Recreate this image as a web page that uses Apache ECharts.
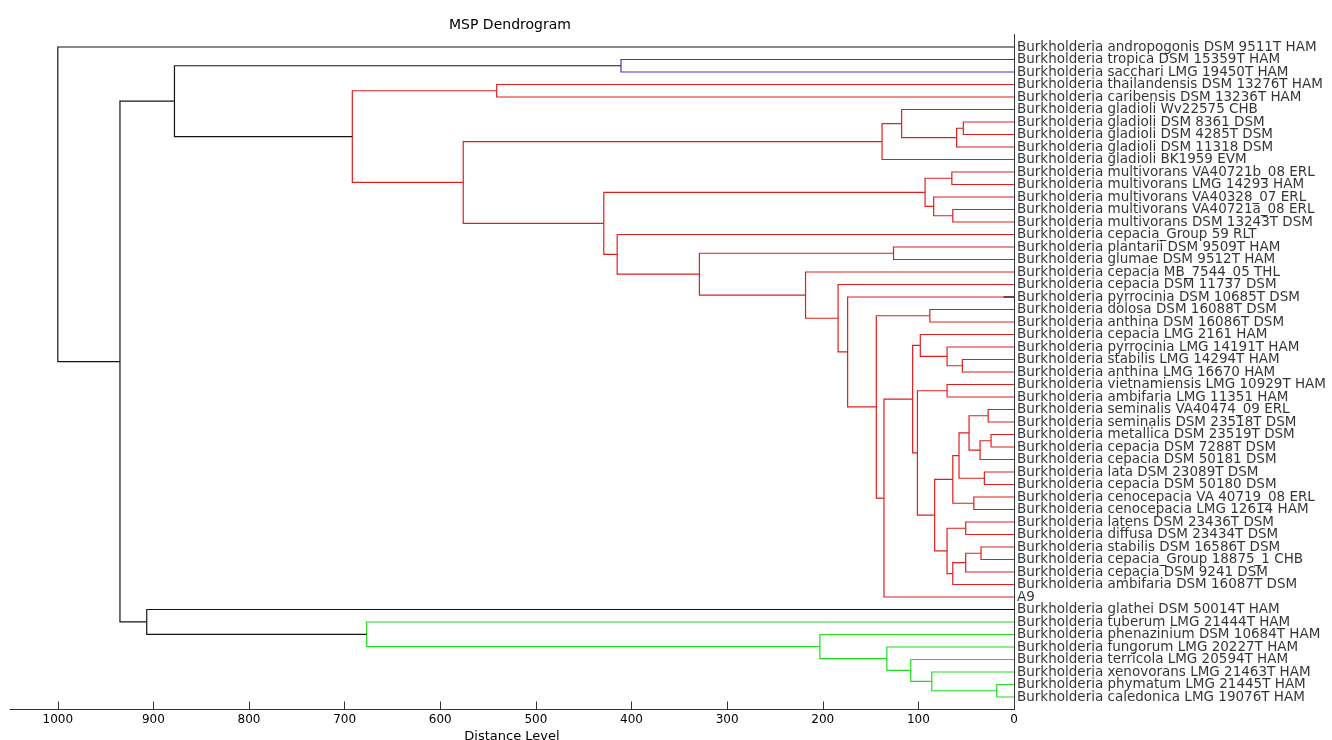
<!DOCTYPE html>
<html><head><meta charset="utf-8">
<script src="https://cdn.jsdelivr.net/npm/echarts@6/dist/echarts.min.js"></script>
<style>html,body{margin:0;padding:0;background:#fff}#c{width:1332px;height:740px}</style>
</head><body><div id="c"></div>
<script>
// Leaf labels, top to bottom
const leafNames = [
  'Burkholderia andropogonis DSM 9511T HAM',
  'Burkholderia tropica DSM 15359T HAM',
  'Burkholderia sacchari LMG 19450T HAM',
  'Burkholderia thailandensis DSM 13276T HAM',
  'Burkholderia caribensis DSM 13236T HAM',
  'Burkholderia gladioli Wv22575 CHB',
  'Burkholderia gladioli DSM 8361 DSM',
  'Burkholderia gladioli DSM 4285T DSM',
  'Burkholderia gladioli DSM 11318 DSM',
  'Burkholderia gladioli BK1959 EVM',
  'Burkholderia multivorans VA40721b_08 ERL',
  'Burkholderia multivorans LMG 14293 HAM',
  'Burkholderia multivorans VA40328_07 ERL',
  'Burkholderia multivorans VA40721a_08 ERL',
  'Burkholderia multivorans DSM 13243T DSM',
  'Burkholderia cepacia_Group 59 RLT',
  'Burkholderia plantarii DSM 9509T HAM',
  'Burkholderia glumae DSM 9512T HAM',
  'Burkholderia cepacia MB_7544_05 THL',
  'Burkholderia cepacia DSM 11737 DSM',
  'Burkholderia pyrrocinia DSM 10685T DSM',
  'Burkholderia dolosa DSM 16088T DSM',
  'Burkholderia anthina DSM 16086T DSM',
  'Burkholderia cepacia LMG 2161 HAM',
  'Burkholderia pyrrocinia LMG 14191T HAM',
  'Burkholderia stabilis LMG 14294T HAM',
  'Burkholderia anthina LMG 16670 HAM',
  'Burkholderia vietnamiensis LMG 10929T HAM',
  'Burkholderia ambifaria LMG 11351 HAM',
  'Burkholderia seminalis VA40474_09 ERL',
  'Burkholderia seminalis DSM 23518T DSM',
  'Burkholderia metallica DSM 23519T DSM',
  'Burkholderia cepacia DSM 7288T DSM',
  'Burkholderia cepacia DSM 50181 DSM',
  'Burkholderia lata DSM 23089T DSM',
  'Burkholderia cepacia DSM 50180 DSM',
  'Burkholderia cenocepacia VA 40719_08 ERL',
  'Burkholderia cenocepacia LMG 12614 HAM',
  'Burkholderia latens DSM 23436T DSM',
  'Burkholderia diffusa DSM 23434T DSM',
  'Burkholderia stabilis DSM 16586T DSM',
  'Burkholderia cepacia_Group 18875_1 CHB',
  'Burkholderia cepacia DSM 9241 DSM',
  'Burkholderia ambifaria DSM 16087T DSM',
  'A9',
  'Burkholderia glathei DSM 50014T HAM',
  'Burkholderia tuberum LMG 21444T HAM',
  'Burkholderia phenazinium DSM 10684T HAM',
  'Burkholderia fungorum LMG 20227T HAM',
  'Burkholderia terricola LMG 20594T HAM',
  'Burkholderia xenovorans LMG 21463T HAM',
  'Burkholderia phymatum LMG 21445T HAM',
  'Burkholderia caledonica LMG 19076T HAM'
];

// Linkage: [childA, childB]; ids >= leafNames.length refer to earlier rows
const linkPairs = [
  [51, 52], [31, 32], [29, 30], [34, 35], [40, 41], [54, 33], [36, 37], [55, 58],
  [38, 39], [57, 42], [6, 7], [25, 26], [60, 56], [63, 8], [65, 59], [62, 43],
  [13, 14], [10, 11], [24, 64], [27, 28], [61, 68], [67, 73], [12, 69], [50, 53],
  [21, 22], [70, 75], [23, 71], [72, 74], [79, 80], [49, 76], [5, 66], [16, 17],
  [48, 82], [81, 44], [83, 9], [77, 86], [20, 88], [19, 89], [47, 85], [18, 90],
  [84, 92], [1, 2], [15, 93], [78, 95], [3, 4], [87, 96], [46, 91], [97, 98],
  [94, 100], [45, 99], [101, 102], [0, 103]
];
// Distance level of each merge
const linkDistances = [
  18, 24, 27, 31, 34.5, 35.5, 42, 47,
  50.5, 50.5, 53, 54, 57.5, 60, 64, 64,
  64, 65, 70, 70, 70, 83, 84, 86,
  88, 93, 98, 101, 106, 108, 117.5, 126,
  133, 136, 138, 144, 174, 184, 203, 218,
  329, 411, 415, 429, 541, 576, 677, 692,
  878, 907, 935, 1000
];
// Cluster colour group of each merge
const linkGroups = [
  'g', 'r', 'r', 'r', 'r', 'r', 'r', 'r',
  'r', 'r', 'r', 'r', 'r', 'r', 'r', 'r',
  'r', 'r', 'r', 'r', 'r', 'r', 'r', 'g',
  'r', 'r', 'r', 'r', 'r', 'g', 'r', 'r',
  'g', 'r', 'r', 'r', 'r', 'r', 'g', 'r',
  'r', 'b', 'r', 'r', 'r', 'r', 'g', 'r',
  'k', 'k', 'k', 'k'
];
// short black stub on one leaf: [leaf index, distance]
const leafStubs = [[20, 11]];
const xTickValues = [0, 100, 200, 300, 400, 500, 600, 700, 800, 900, 1000];

const groupColors = { k: '#141414', r: '#e01f1f', g: '#1ede1e', b: '#3a3ac8' };

const nLeaf = leafNames.length;
const nodes = [];
for (let i = 0; i < nLeaf; i++) nodes.push({ y: i, h: 0 });
const segs = { k: [], r: [], g: [], b: [] };
linkPairs.forEach((p, k) => {
  const A = nodes[p[0]], B = nodes[p[1]], h = linkDistances[k];
  segs[linkGroups[k]].push({ coords: [[A.h, A.y], [h, A.y], [h, B.y], [B.h, B.y]] });
  nodes.push({ y: (A.y + B.y) / 2, h: h });
});
leafStubs.forEach(s => segs.k.push({ coords: [[0, s[0]], [s[1], s[0]]] }));

const FONT = 'DejaVu Sans';
const series = ['r', 'g', 'b', 'k'].map(g => ({
  type: 'lines', coordinateSystem: 'cartesian2d', polyline: true, silent: true,
  lineStyle: { color: groupColors[g], width: 1.2, opacity: 1 },
  data: segs[g], z: g === 'k' ? 3 : 2
}));
// leaf labels, anchored at each leaf's position
series.push({
  type: 'scatter', silent: true, symbolSize: 0, z: 4,
  data: leafNames.map((n, i) => [0, i, n]),
  label: {
    show: true, position: 'right', distance: 3,
    fontFamily: FONT, fontSize: 13.5, color: '#000',
    formatter: p => p.data[2]
  },
  labelLayout: { hideOverlap: false }
});

const chart = echarts.init(document.getElementById('c'), null, { renderer: 'canvas' });
chart.setOption({
  animation: false,
  backgroundColor: '#fff',
  title: { text: 'MSP Dendrogram', left: 444, top: 13,
    textStyle: { fontFamily: FONT, fontSize: 14, fontWeight: 'normal', color: '#000' } },
  grid: { left: 10, right: 318, top: 34.5, bottom: 30.5, outerBoundsMode: 'none', containLabel: false },
  xAxis: {
    type: 'value', inverse: true, min: 0, max: 1050, position: 'bottom',
    name: 'Distance Level', nameLocation: 'middle', nameGap: 19,
    nameTextStyle: { fontFamily: FONT, fontSize: 13, color: '#000' },
    axisLine: { show: true, onZero: false, lineStyle: { color: '#333', width: 1 } },
    axisTick: { show: true, inside: true, length: 8, customValues: xTickValues, lineStyle: { color: '#333' } },
    axisLabel: { customValues: xTickValues, margin: 4, fontFamily: FONT, fontSize: 12, color: '#000',
      showMinLabel: true, showMaxLabel: true, formatter: v => String(v) },
    splitLine: { show: false }
  },
  yAxis: {
    type: 'value', inverse: true, min: -1, max: 53, position: 'right',
    axisLine: { show: true, onZero: false, lineStyle: { color: '#333', width: 1 } },
    axisTick: { show: false },
    axisLabel: { show: false },
    splitLine: { show: false }
  },
  series: series
});
</script></body></html>
